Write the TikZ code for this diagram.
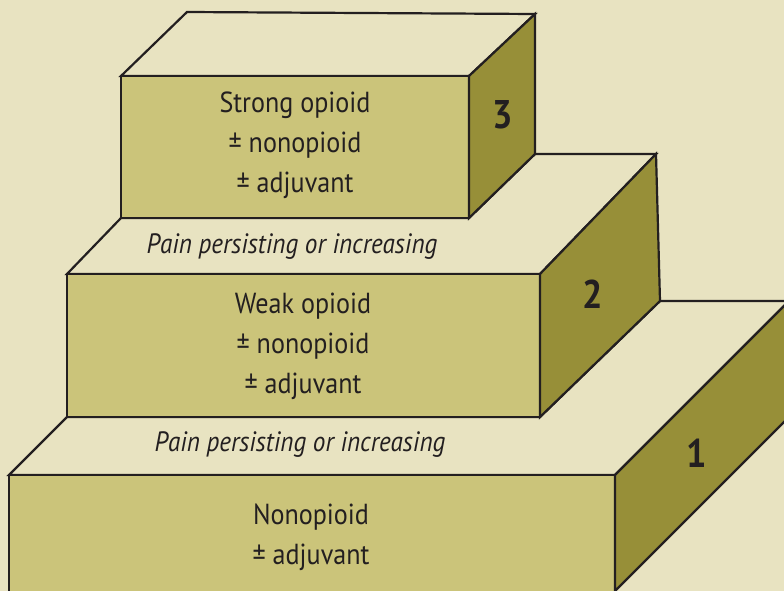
\documentclass[tikz,border=0pt]{standalone}
\usepackage{fontspec}
\setmainfont[FakeStretch=0.9]{PT Sans}
\definecolor{paper}{HTML}{E8E3C1}
\definecolor{stepfront}{HTML}{CBC47A}
\definecolor{stepside}{HTML}{978F38}
\definecolor{ink}{HTML}{231F20}
\begin{document}
\begin{tikzpicture}[x=1pt,y=-1pt,line width=2.2pt,
  face/.style={draw=ink,line join=miter},
  front/.style={face,fill=stepfront},
  side/.style={face,fill=stepside},
  top/.style={face,fill=paper},
  drug/.style={text=ink,align=center,font=\fontsize{29}{40}\selectfont},
  remark/.style={text=ink,font=\fontsize{28}{30}\selectfont\itshape},
  level/.style={text=ink,font=\fontsize{40}{40}\selectfont\bfseries}]

\fill[paper] (0,0) rectangle (784,591);
\useasboundingbox (0,0) rectangle (784,591);
\clip (0,0) rectangle (784,591);

% step 1
\draw[top] (9,475) -- (67,417) -- (540,417) -- (660,301) -- (789,301) -- (615,475) -- cycle;
\draw[front] (9,475) rectangle (615,600);
\draw[side] (615,475) -- (789,301) -- (789,417) -- (615,591) -- cycle;

% step 2
\draw[top] (67,274) -- (121,218) -- (469,218) -- (535,154) -- (656,154) -- (540,274) -- cycle;
\draw[front] (67,274) rectangle (540,417);
\draw[side] (540,274) -- (656,154) -- (660,301) -- (540,417) -- cycle;

% step 3
\draw[top] (121,76) -- (187,12) -- (535,14) -- (469,76) -- cycle;
\draw[front] (121,76) rectangle (469,218);
\draw[side] (469,76) -- (535,14) -- (535,154) -- (469,218) -- cycle;

\node[drug] (strong) at (295,145) {Strong opioid\\ ± nonopioid\\ ± adjuvant};
\node[drug] (weak) at (303,346) {Weak opioid\\ ± nonopioid\\ ± adjuvant};
\node[drug] (nonop) at (311,537) {Nonopioid\\ ± adjuvant};

\node[remark] (pain2) at (292,247) {Pain persisting or increasing};
\node[remark] (pain1) at (300,445) {Pain persisting or increasing};

\node[level] (n3) at (503,115) {3};
\node[level] (n2) at (593,294) {2};
\node[level] (n1) at (697,453) {1};
\end{tikzpicture}
\end{document}
